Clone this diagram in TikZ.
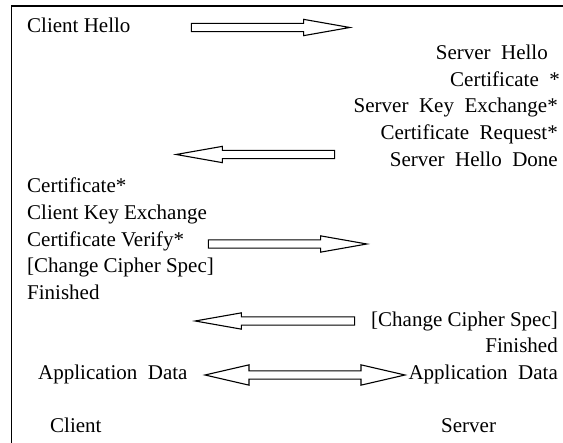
\documentclass[tikz,border=0pt]{standalone}
\usepackage{fontspec}
\setmainfont{Liberation Serif}
\usetikzlibrary{shapes.arrows}

\tikzset{
  msg/.style={inner sep=0pt, font=\fontsize{21}{25}\selectfont},
  wide/.style={msg, execute at begin node={\spaceskip=0.5em\relax}},
  flight/.style={single arrow, draw, line width=1.1pt, inner xsep=0pt,
    inner ysep=3.6pt, single arrow head extend=4pt,
    single arrow tip angle=20, minimum height=158.5pt, anchor=tip},
  back/.style={flight, shape border rotate=180},
  both/.style={double arrow, draw, line width=1.1pt, inner xsep=0pt,
    inner ysep=3.6pt, double arrow head extend=6pt,
    double arrow tip angle=26}
}

\begin{document}
\begin{tikzpicture}[x=1pt, y=-1pt]
    \useasboundingbox (0, 0) rectangle (563, 443);
    \draw [line width=1.6pt] (11.5, 443) -- (11.5, 6) -- (563, 6);

    \node [msg, anchor=base west] (hello) at (27, 33) {Client Hello};
    \node [flight] (flight1) at (353, 27.5) {};

    \node [wide, anchor=base east] (srvhello) at (548, 60) {Server Hello};
    \node [wide, anchor=base east] (cert) at (560, 86.5) {Certificate *};
    \node [wide, anchor=base east] (srvkex) at (558, 113) {Server Key Exchange*};
    \node [wide, anchor=base east] (certreq) at (558, 140) {Certificate Request*};
    \node [wide, anchor=base east] (hellodone) at (558, 166.5) {Server Hello Done};
    \node [back] (flight2) at (173, 154.5) {};

    \node [msg, anchor=base west] (clcert) at (27, 193) {Certificate*};
    \node [msg, anchor=base west] (clkex) at (27, 220) {Client Key Exchange};
    \node [msg, anchor=base west] (certvfy) at (27, 246.5) {Certificate Verify*};
    \node [msg, anchor=base west] (clccs) at (27, 273) {[Change Cipher Spec]};
    \node [msg, anchor=base west] (clfin) at (27, 300) {Finished};
    \node [flight] (flight3) at (370, 244) {};

    \node [msg, anchor=base east] (srvccs) at (558, 326.5) {[Change Cipher Spec]};
    \node [msg, anchor=base east] (srvfin) at (558, 353) {Finished};
    \node [back, minimum height=159.5pt] (flight4) at (192, 321) {};

    % application data flows both ways
    \node [wide, anchor=base west] (clapp) at (38, 380) {Application Data};
    \node [wide, anchor=base east] (srvapp) at (558, 380) {Application Data};
    \node [both, minimum height=200pt] (flight5) at (305, 375) {};

    \node [msg, anchor=base west] (client) at (50, 433) {Client};
    \node [msg, anchor=base west] (server) at (441, 433) {Server};
\end{tikzpicture}
\end{document}
